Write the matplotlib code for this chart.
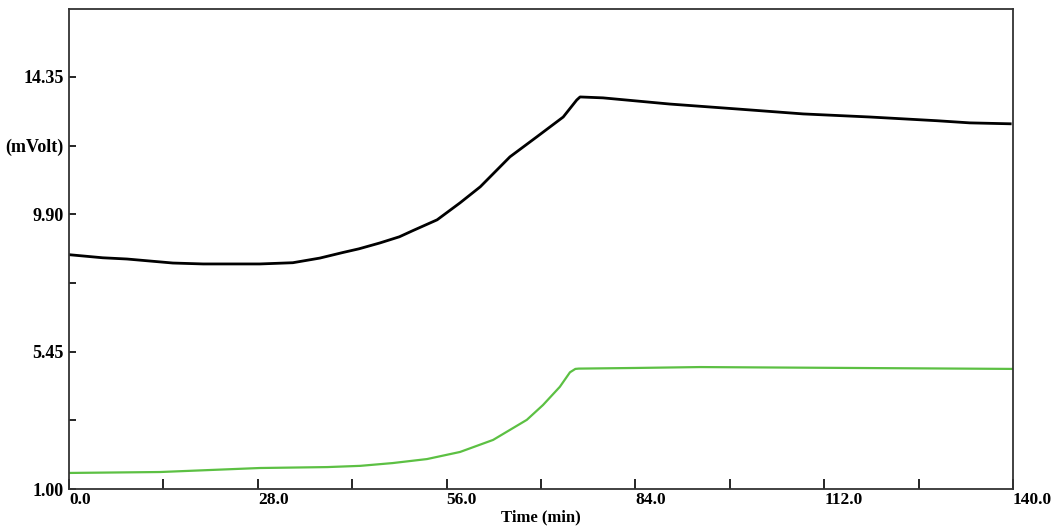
import matplotlib
matplotlib.use("Agg")
import matplotlib.pyplot as plt

# upper trace (black)
time_black = [0.0, 5.0, 8.6, 15.4, 19.9, 28.3, 33.2, 37.2, 40.6, 43.0, 46.1, 49.0, 51.0,
              54.6, 58.0, 61.0, 65.4, 69.4, 73.3, 75.3, 75.8, 79.2, 89.1, 99.1,
              108.9, 118.8, 128.7, 133.6, 139.6]
volt_black = [8.59, 8.49, 8.45, 8.32, 8.29, 8.29, 8.33, 8.48, 8.66, 8.78, 8.97, 9.17, 9.37,
              9.72, 10.27, 10.79, 11.76, 12.41, 13.05, 13.60, 13.70, 13.67, 13.47, 13.31,
              13.15, 13.05, 12.93, 12.86, 12.83]

# lower trace (green)
time_green = [0.0, 13.5, 28.3, 38.3, 43.2, 48.0, 53.1, 58.0, 62.9, 67.9, 70.3, 72.8,
              74.3, 75.1, 75.6, 83.7, 93.6, 140.0]
volt_green = [1.52, 1.55, 1.68, 1.71, 1.75, 1.84, 1.97, 2.20, 2.59, 3.24, 3.72, 4.31,
              4.78, 4.89, 4.90, 4.92, 4.95, 4.89]

x_ticks = [0.0, 28.0, 56.0, 84.0, 112.0, 140.0]
x_minor = [14.0, 42.0, 70.0, 98.0, 126.0]
y_ticks = [1.00, 3.225, 5.45, 7.675, 9.90, 12.125, 14.35]
y_labels = ["1.00", "", "5.45", "", "9.90", "(mVolt)", "14.35"]

plt.rcParams["font.family"] = ["Liberation Serif", "DejaVu Serif"]

fig = plt.figure(figsize=(10.54, 5.27), dpi=100)
ax = fig.add_axes([0.0655, 0.0721, 0.8955, 0.9109])

ax.plot(time_black, volt_black, color="black", linewidth=2.0)
ax.plot(time_green, volt_green, color="#5cc043", linewidth=1.6)

ax.set_xlim(0, 140)
ax.set_ylim(1.0, 16.55)

ax.set_xticks(x_ticks)
ax.set_xticklabels([f"{t:.1f}" for t in x_ticks], fontsize=12.5, fontweight="bold")
for lbl in ax.get_xticklabels():
    lbl.set_horizontalalignment("left")
ax.set_xticks(x_minor, minor=True)
ax.tick_params(axis="x", which="both", direction="in", length=7, width=1.2, pad=2)

ax.set_yticks(y_ticks)
ax.set_yticklabels(y_labels, fontsize=13, fontweight="bold")
ax.tick_params(axis="y", direction="in", length=5, width=1.2, pad=4)

ax.set_xlabel("Time (min)", fontsize=12, fontweight="bold", labelpad=1)

for side in ["left", "right", "top", "bottom"]:
    ax.spines[side].set_linewidth(1.3)
    ax.spines[side].set_color("#333333")

fig.savefig("out.png", dpi=100)
